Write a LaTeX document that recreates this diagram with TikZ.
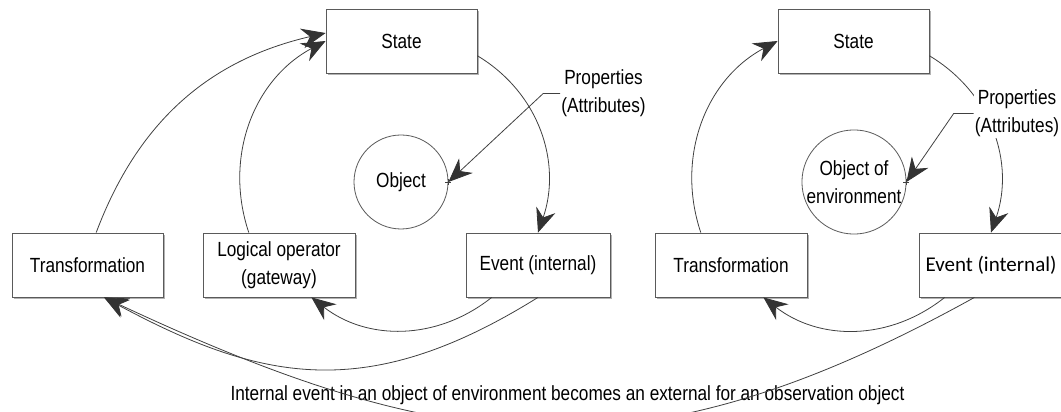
\documentclass[tikz,border=0pt]{standalone}
\usepackage{fontspec}
\setmainfont{Liberation Sans}[FakeStretch=0.84]
\newfontfamily\calfont{Carlito}
\usetikzlibrary{arrows.meta,shadows}
\definecolor{linec}{HTML}{404040}
\definecolor{boxc}{HTML}{5A5A5A}
\definecolor{headc}{HTML}{333333}
\begin{document}
\begin{tikzpicture}[x=1pt,y=1pt,
  every node/.style={font=\fontsize{20.5}{28}\selectfont},
  box/.style={draw=boxc, line width=0.8pt, fill=white, minimum height=64pt, inner sep=0pt, align=center,
    drop shadow={shadow xshift=2pt, shadow yshift=-2pt, fill=black!30, opacity=1}},
  obj/.style={circle, draw=boxc, line width=0.8pt, fill=white, minimum size=94pt, inner sep=0pt, align=center},
  conn/.style={draw=linec, line width=0.8pt},
  arr/.style={conn, -{Stealth[length=24pt, width=20pt, inset=8pt, fill=headc, color=headc]}},
  lbl/.style={fill=white, inner sep=1pt, align=center}
]
\useasboundingbox (0,0) rectangle (1061,412);
\clip (0,0) rectangle (1061,412);

% left object
\node[box, minimum width=151pt] (stateL) at (401.5,371) {State};
\node[box, minimum width=151pt] (transL) at (87.5,147) {Transformation};
\node[box, minimum width=152pt] (logic) at (279,147) {Logical operator\\(gateway)};
\node[box, minimum width=144pt] (eventL) at (538,147) {Event (internal)};
\node[obj] (objL) at (401,230) {Object};

% right object
\node[box, minimum width=151pt] (stateR) at (853.5,371) {State};
\node[box, minimum width=152pt] (transR) at (731,147) {Transformation};
\node[box, minimum width=144pt, font=\calfont\fontsize{21}{26}\selectfont] (eventR) at (991,147) {Event (internal)};
\node[obj] (objR) at (854,230) {Object of\\environment};

% bottom note
\node (note) at (567.5,17) {Internal event in an object of environment becomes an external for an observation object};

% left cycle
\draw[arr] (stateL.-11) to[out=-31,in=71] (eventL.north);
\draw[arr] (eventL.215) to[out=218.5,in=-38] (logic.-45);
\draw[arr] (logic.133) to[out=108.5,in=208] (stateL.west);
\draw[arr] (transL.75) to[out=69.4,in=193] (stateL.174);
\draw[arr] (eventL.south) .. controls +(-170,-106) and +(158,-85) .. (transL.-63);

% right cycle
\draw[arr] (stateR.-11) to[out=-31,in=71] (eventR.north);
\draw[arr] (eventR.215) to[out=218.5,in=-38] (transR.-45);
\draw[arr] (transR.133) to[out=108.5,in=208] (stateR.west);

% external event
\draw[arr] (eventR.243) .. controls +(-332,-184) and +(344,-161) .. (transL.-63);

% properties
\node[lbl] (propL) at (603.5,318.5) {Properties\\(Attributes)};
\node[lbl] (propR) at (1017,298.5) {Properties\\(Attributes)};
\draw[arr] (propL.west) -- ++(-17,0) -- (objL.east);
\draw[arr] (propR.west) -- ++(-20,0) -- (objR.east);
\draw[conn, line width=0.6pt] ([xshift=-3pt]objL.east) -- ([xshift=3pt]objL.east)
  ([yshift=-3pt]objL.east) -- ([yshift=3pt]objL.east);
\draw[conn, line width=0.6pt] ([xshift=-3pt]objR.east) -- ([xshift=3pt]objR.east)
  ([yshift=-3pt]objR.east) -- ([yshift=3pt]objR.east);
\end{tikzpicture}
\end{document}
